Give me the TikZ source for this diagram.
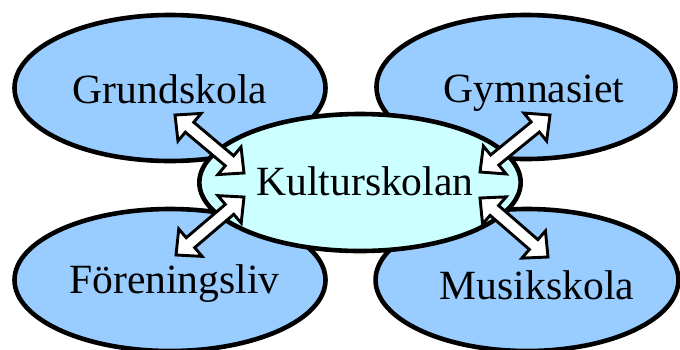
\documentclass[tikz,border=0pt]{standalone}
\usepackage{fontspec}
\setmainfont{Liberation Serif}
\usetikzlibrary{shapes.geometric,calc}
\definecolor{outerblue}{RGB}{153,204,255}
\definecolor{innercyan}{RGB}{204,255,255}
\tikzset{
  school/.style={ellipse, draw=black, line width=2.3pt, fill=outerblue, inner sep=0pt,
    text depth=0pt, font=\fontsize{20.8}{24}\selectfont},
  hub/.style={school, fill=innercyan},
  blockarrow/.style={draw=black, fill=white, line width=1.45pt, line join=miter},
}
\newcommand\blockarr[2]{%
  \coordinate (#1h) at ($(#1)!9.5pt!(#2)$);
  \coordinate (#2h) at ($(#2)!9.5pt!(#1)$);
  \draw[blockarrow] (#1) -- ($(#1h)!9pt!90:(#2)$) -- ($(#1h)!3.25pt!90:(#2)$)
    -- ($(#2h)!3.25pt!-90:(#1)$) -- ($(#2h)!9pt!-90:(#1)$) -- (#2)
    -- ($(#2h)!9pt!90:(#1)$) -- ($(#2h)!3.25pt!90:(#1)$)
    -- ($(#1h)!3.25pt!-90:(#2)$) -- ($(#1h)!9pt!-90:(#2)$) -- cycle;
}
\begin{document}
\begin{tikzpicture}[x=0.5pt,y=-0.5pt]
\useasboundingbox (0,0) rectangle (680,349);
\node[school, minimum width=155.5pt, minimum height=73pt, text height=15pt] (G) at (170,88) {Grundskola};
\node[school, minimum width=149.5pt, minimum height=72pt, text height=15pt] (Gy) at (526,87) {\hspace*{8pt}Gymnasiet};
\node[school, minimum width=155.5pt, minimum height=71pt, text height=13pt] (F) at (170,280) {\hspace*{4.5pt}Föreningsliv};
\node[school, minimum width=149pt, minimum height=71pt, text height=19pt] (M) at (527,280) {\hspace*{10pt}Musikskola};
\node[hub, minimum width=153pt, minimum height=68.5pt, text height=12.5pt] (K) at (360,182.5) {\hspace*{5pt}Kulturskolan};
% arrow end points
\coordinate (gA) at ($(G)+(5,27)$);
\coordinate (kA) at ($(K)+(-116,-9.5)$);
\coordinate (fB) at ($(F)+(6,-25)$);
\coordinate (kB) at ($(K)+(-116,14.5)$);
\coordinate (gyC) at ($(Gy)+(24,28)$);
\coordinate (kC) at ($(K)+(120,-10.5)$);
\coordinate (kD) at ($(K)+(120,15.5)$);
\coordinate (mD) at ($(M)+(21,-23)$);
\blockarr{gA}{kA}
\blockarr{fB}{kB}
\blockarr{gyC}{kC}
\blockarr{kD}{mD}
\end{tikzpicture}
\end{document}
